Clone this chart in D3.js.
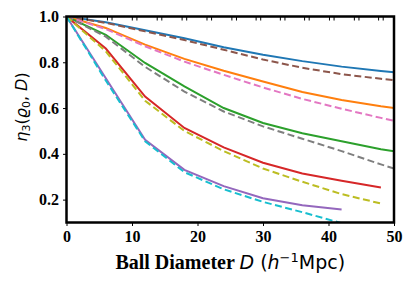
<!DOCTYPE html>
<html>
<head>
<meta charset="utf-8">
<script src="https://cdn.jsdelivr.net/npm/d3@7"></script>
<style>
  body { margin: 0; background: #fff; }
  svg { display: block; }
</style>
</head>
<body>
<div id="chart"></div>
<script>
// ball diameters (h^-1 Mpc)
const diam = [0, 6, 12, 18, 24, 30, 36, 42, 48, 54];

// solid curves
const blue   = [1.0, 0.975, 0.94, 0.905, 0.866, 0.833, 0.805, 0.781, 0.762, 0.745];
const orange = [1.0, 0.95, 0.877, 0.815, 0.763, 0.716, 0.67, 0.635, 0.608, 0.585];
const green  = [1.0, 0.92, 0.797, 0.695, 0.60, 0.535, 0.49, 0.455, 0.42, 0.395];
const red    = [1.0, 0.86, 0.65, 0.513, 0.428, 0.361, 0.314, 0.282, 0.253];
const purple = [1.0, 0.73, 0.461, 0.33, 0.259, 0.206, 0.175, 0.157];

// dashed curves
const brown  = [1.0, 0.972, 0.935, 0.897, 0.855, 0.812, 0.776, 0.748, 0.728, 0.71];
const pink   = [1.0, 0.945, 0.87, 0.803, 0.745, 0.69, 0.64, 0.597, 0.557, 0.52];
const grey   = [1.0, 0.912, 0.78, 0.672, 0.585, 0.52, 0.466, 0.412, 0.354, 0.30];
const olive  = [1.0, 0.848, 0.632, 0.50, 0.412, 0.336, 0.278, 0.224, 0.183];
const cyan   = [1.0, 0.72, 0.455, 0.32, 0.245, 0.19, 0.145, 0.097];

const xTicks = [0, 10, 20, 30, 40, 50];
const yTicks = [0.2, 0.4, 0.6, 0.8, 1.0];
const topTicks = [2.8, 6.6, 10.4, 14.2, 18.0, 21.8, 25.6, 29.3, 33.0, 36.7, 40.5, 44.3, 48.0];

const series = [
  { vals: blue, color: "#1f77b4", dash: null },
  { vals: orange, color: "#ff7f0e", dash: null },
  { vals: green, color: "#2ca02c", dash: null },
  { vals: red, color: "#d62728", dash: null },
  { vals: purple, color: "#9467bd", dash: null },
  { vals: brown, color: "#8c564b", dash: "7,3.5" },
  { vals: pink, color: "#e377c2", dash: "7,3.5" },
  { vals: grey, color: "#7f7f7f", dash: "7,3.5" },
  { vals: olive, color: "#bcbd22", dash: "7,3.5" },
  { vals: cyan, color: "#17becf", dash: "7,3.5" }
];

const width = 415, height = 291,
  margin = ({ top: 16.5, right: 21, bottom: 68.5, left: 66.5 });

const x = d3.scaleLinear()
  .domain([0, 50])
  .range([margin.left, width - margin.right]);

const y = d3.scaleLinear()
  .domain([0.1, 1.0])
  .range([height - margin.bottom, margin.top]);

const svg = d3.select("#chart")
  .append("svg")
  .attr("width", width)
  .attr("height", height)
  .attr("viewBox", [0, 0, width, height]);

svg.append("clipPath")
  .attr("id", "clip")
  .append("rect")
  .attr("x", margin.left)
  .attr("y", margin.top)
  .attr("width", x(50) - margin.left)
  .attr("height", y(0.1) - margin.top);

const line = d3.line()
  .x((d, i) => x(diam[i]))
  .y(d => y(d));

const g = svg.append("g").attr("clip-path", "url(#clip)");

g.selectAll("path")
  .data(series)
  .join("path")
  .attr("fill", "none")
  .attr("stroke", d => d.color)
  .attr("stroke-width", 2)
  .attr("stroke-dasharray", d => d.dash)
  .attr("d", d => line(d.vals));

const tickFont = "'Liberation Serif', 'Times New Roman', serif";

// bottom axis
svg.append("g")
  .attr("transform", `translate(0,${y(0.1)})`)
  .call(d3.axisBottom(x).tickValues(xTicks).tickSize(3.5).tickPadding(5).tickSizeOuter(0).tickFormat(d3.format("d")))
  .call(a => a.select(".domain").remove())
  .call(a => a.selectAll("line").attr("stroke-width", 1))
  .call(a => a.selectAll("text")
    .attr("font-family", tickFont).attr("font-weight", "bold")
    .attr("font-size", 16).attr("fill", "#000"));

// left axis
svg.append("g")
  .attr("transform", `translate(${margin.left},0)`)
  .call(d3.axisLeft(y).tickValues(yTicks).tickSize(3.5).tickPadding(4).tickSizeOuter(0).tickFormat(d3.format(".1f")))
  .call(a => a.select(".domain").remove())
  .call(a => a.selectAll("line").attr("stroke-width", 1))
  .call(a => a.selectAll("text")
    .attr("font-family", tickFont).attr("font-weight", "bold")
    .attr("font-size", 16).attr("fill", "#000"));

// small paired ticks along the top spine
const tp = svg.append("g");
for (const t of topTicks) {
  for (const off of [-0.35, 0.35]) {
    tp.append("line")
      .attr("x1", x(t + off)).attr("x2", x(t + off))
      .attr("y1", margin.top).attr("y2", margin.top + 4)
      .attr("stroke", "#000").attr("stroke-width", 1);
  }
}

// frame
svg.append("rect")
  .attr("x", margin.left)
  .attr("y", margin.top)
  .attr("width", x(50) - margin.left)
  .attr("height", y(0.1) - margin.top)
  .attr("fill", "none")
  .attr("stroke", "#000")
  .attr("stroke-width", 2.5);

// x label
const xl = svg.append("text")
  .attr("x", (x(0) + x(50)) / 2)
  .attr("y", 269)
  .attr("text-anchor", "middle")
  .attr("fill", "#000");
xl.append("tspan")
  .attr("font-family", tickFont).attr("font-weight", "bold").attr("font-size", 20)
  .text("Ball Diameter ");
xl.append("tspan")
  .attr("font-family", "'DejaVu Sans', sans-serif").attr("font-size", 19).attr("font-style", "italic")
  .text("D");
xl.append("tspan")
  .attr("font-family", "'DejaVu Sans', sans-serif").attr("font-size", 19)
  .text(" (");
xl.append("tspan")
  .attr("font-family", "'DejaVu Sans', sans-serif").attr("font-size", 19).attr("font-style", "italic")
  .text("h");
xl.append("tspan")
  .attr("font-family", "'DejaVu Sans', sans-serif").attr("font-size", 13)
  .attr("dy", -7)
  .text("\u22121");
xl.append("tspan")
  .attr("font-family", "'DejaVu Sans', sans-serif").attr("font-size", 19)
  .attr("dy", 7)
  .text("Mpc)");

// y label
const yl = svg.append("text")
  .attr("transform", `translate(27,107) rotate(-90)`)
  .attr("text-anchor", "middle")
  .attr("font-family", "'DejaVu Sans', sans-serif")
  .attr("font-size", 16)
  .attr("fill", "#000");
yl.append("tspan").attr("font-style", "italic").text("\u03b7");
yl.append("tspan").attr("font-size", 11).attr("dy", 3).text("3");
yl.append("tspan").attr("dy", -3).text("(");
yl.append("tspan").attr("font-style", "italic").text("\u03f1");
yl.append("tspan").attr("font-size", 11).attr("dy", 3).text("0");
yl.append("tspan").attr("dy", -3).text(", ");
yl.append("tspan").attr("font-style", "italic").text("D");
yl.append("tspan").text(")");
</script>
</body>
</html>
